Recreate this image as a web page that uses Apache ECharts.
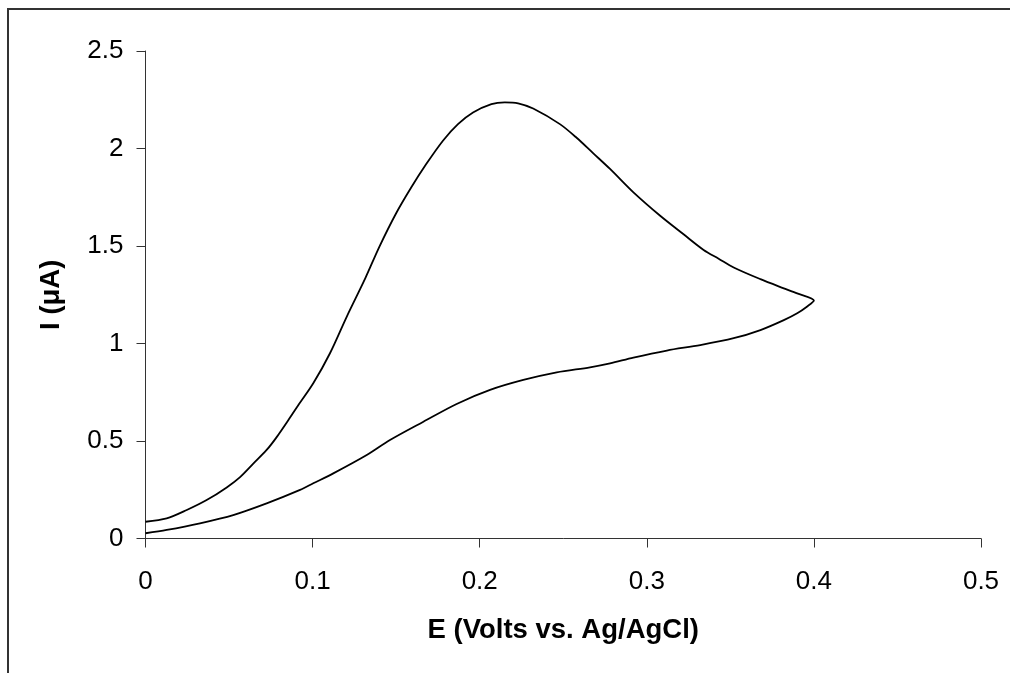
<!DOCTYPE html>
<html>
<head>
<meta charset="utf-8">
<script src="https://cdn.jsdelivr.net/npm/echarts@6/dist/echarts.min.js"></script>
<style>
html,body{margin:0;padding:0;background:#fff;}
#chart{width:1010px;height:673px;}
</style>
</head>
<body>
<div id="chart"></div>
<script>
// Forward scan (lower branch), E in V, I in µA
var forwardE = [0, 0.0127, 0.0326, 0.0525, 0.0725, 0.0925, 0.1004, 0.1124, 0.1324, 0.1463, 0.1663, 0.1862, 0.2062, 0.2261, 0.2461, 0.266, 0.278, 0.292, 0.312, 0.332, 0.352, 0.368, 0.382, 0.39, 0.396, 0.4];
var forwardI = [0.027, 0.044, 0.078, 0.12, 0.18, 0.249, 0.283, 0.334, 0.428, 0.505, 0.599, 0.69, 0.762, 0.813, 0.852, 0.878, 0.898, 0.928, 0.964, 0.992, 1.027, 1.069, 1.12, 1.155, 1.19, 1.22];
// Reverse scan (upper branch)
var reverseE = [0.4, 0.39, 0.382, 0.368, 0.352, 0.343, 0.334, 0.322, 0.308, 0.292, 0.278, 0.268, 0.258, 0.248, 0.232, 0.223, 0.215, 0.207, 0.196, 0.187, 0.178, 0.168, 0.159, 0.150, 0.140, 0.1315, 0.1204, 0.1104, 0.1004, 0.0905, 0.0865, 0.0785, 0.0725, 0.0645, 0.0566, 0.0486, 0.0366, 0.0247, 0.0127, 0];
var reverseI = [1.22, 1.257, 1.283, 1.33, 1.39, 1.435, 1.48, 1.56, 1.655, 1.775, 1.895, 1.975, 2.055, 2.125, 2.205, 2.232, 2.237, 2.228, 2.185, 2.125, 2.04, 1.92, 1.80, 1.668, 1.497, 1.334, 1.137, 0.95, 0.796, 0.672, 0.62, 0.52, 0.454, 0.384, 0.315, 0.262, 0.197, 0.146, 0.103, 0.086];
var xTicks = [0, 0.1, 0.2, 0.3, 0.4, 0.5];
var yTicks = [0, 0.5, 1, 1.5, 2, 2.5];

var pts = [];
forwardE.forEach(function(e, i){ pts.push([e, forwardI[i]]); });
reverseE.forEach(function(e, i){ pts.push([e, reverseI[i]]); });

var chart = echarts.init(document.getElementById('chart'));
var font = 'Liberation Sans, Arial, sans-serif';
chart.setOption({
  animation: false,
  backgroundColor: '#ffffff',
  graphic: [{
    type: 'rect',
    shape: {x: 8, y: 9, width: 3000, height: 3000},
    style: {fill: 'none', stroke: '#333', lineWidth: 2},
    silent: true
  }],
  grid: {left: 145.5, right: 29, top: 51, bottom: 134.5, containLabel: false},
  xAxis: {
    type: 'value', min: 0, max: 0.5, interval: 0.1,
    name: 'E (Volts vs. Ag/AgCl)', nameLocation: 'middle', nameGap: 78,
    nameTextStyle: {fontFamily: font, fontSize: 27.5, fontWeight: 'bold', color: '#000'},
    axisLine: {show: true, lineStyle: {color: '#333', width: 1}},
    axisTick: {show: true, inside: false, length: 9, lineStyle: {color: '#333', width: 1}},
    axisLabel: {fontFamily: font, fontSize: 26, color: '#000', margin: 30,
      formatter: function(v){ var i = xTicks.indexOf(Math.round(v*10)/10); return i >= 0 ? String(xTicks[i]) : ''; }},
    splitLine: {show: false}
  },
  yAxis: {
    type: 'value', min: 0, max: 2.5, interval: 0.5,
    name: 'I (\u03bcA)', nameLocation: 'middle', nameGap: 80, nameRotate: 90,
    nameTextStyle: {fontFamily: font, fontSize: 27.5, fontWeight: 'bold', color: '#000'},
    axisLine: {show: true, lineStyle: {color: '#333', width: 1}},
    axisTick: {show: true, inside: false, length: 9, lineStyle: {color: '#333', width: 1}},
    axisLabel: {fontFamily: font, fontSize: 26, color: '#000', margin: 22,
      formatter: function(v){ var i = yTicks.indexOf(Math.round(v*10)/10); return i >= 0 ? String(yTicks[i]) : ''; }},
    splitLine: {show: false}
  },
  series: [{
    type: 'line',
    data: pts,
    showSymbol: false,
    smooth: 0.3,
    lineStyle: {color: '#000', width: 1.8},
    silent: true
  }]
});
</script>
</body>
</html>
